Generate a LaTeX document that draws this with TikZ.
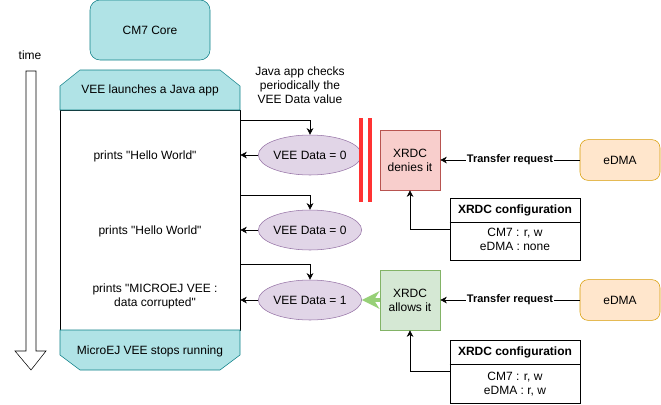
\documentclass[tikz,border=0pt]{standalone}
\usepackage{fontspec}
\setmainfont{Liberation Sans}
\usepackage{xcolor}
\definecolor{tealfill}{HTML}{B0E3E6}
\definecolor{tealline}{HTML}{0E8088}
\definecolor{purplefill}{HTML}{E1D5E7}
\definecolor{purpleline}{HTML}{9673A6}
\definecolor{redfill}{HTML}{F8CECC}
\definecolor{redline}{HTML}{B85450}
\definecolor{greenfill}{HTML}{D5E8D4}
\definecolor{greenline}{HTML}{82B366}
\definecolor{greenarrow}{HTML}{97D077}
\definecolor{orangefill}{HTML}{FFE6CC}
\definecolor{orangeline}{HTML}{D79B00}
\definecolor{barred}{HTML}{FF3333}
\usepackage{tikz}
\usetikzlibrary{arrows.meta, positioning, shapes, calc}

\begin{document}
\begin{tikzpicture}[x=0.75pt, y=-0.75pt, font=\fontsize{9}{10.5}\selectfont,
  core/.style={draw=tealline, fill=tealfill, rounded corners=7.5pt, minimum width=90pt, minimum height=45pt},
  vdata/.style={ellipse, draw=purpleline, fill=purplefill, minimum width=60pt, minimum height=30pt, inner sep=0pt},
  xrdc/.style={draw, minimum width=45pt, minimum height=45pt, align=center, inner sep=1pt},
  edma/.style={draw=orangeline, fill=orangefill, rounded corners=6pt, minimum width=60pt, minimum height=30.5pt},
  cfgbox/.style={draw, fill=white, minimum width=97.5pt},
  cfghead/.style={minimum width=97.5pt, minimum height=18pt, inner sep=0pt, font=\fontsize{9}{10.5}\selectfont\bfseries},
  arr/.style={-{Stealth[length=5pt, width=5pt]}},
  req/.style={fill=white, inner sep=1pt, font=\fontsize{8.25}{10}\selectfont\bfseries}]
  \useasboundingbox (0,0) rectangle (661,404);

  % Time arrow
  \node (time) at (30,55) {time};
  \draw[fill=white] (26,71) -- (36,71) -- (36,351) -- (46,351) -- (31,370)
    -- (15,351) -- (26,351) -- cycle;

  % Core
  \node[core] (cm7) at (150,30) {CM7 Core};

  % Main app block
  \node[draw, minimum width=135pt, minimum height=165pt, inner sep=0pt] (app) at (150,220) {};
  \draw[draw=tealline, fill=tealfill] (60,110) -- (60,86) -- (80,70) -- (220,70)
    -- (240,86) -- (240,110) -- cycle;
  \draw[draw=tealline, fill=tealfill] (60,330) -- (240,330) -- (240,355)
    -- (220,370) -- (80,370) -- (60,355) -- cycle;
  \node (launch) at (150,90) {VEE launches a Java app};
  \node (stop) at (150,351) {MicroEJ VEE stops running};
  \node (print1) at (145,156) {prints \textquotedbl Hello World\textquotedbl};
  \node (print2) at (150,231) {prints \textquotedbl Hello World\textquotedbl};
  \node[align=center] (print3) at (155,296) {prints \textquotedbl MICROEJ VEE :\\data corrupted\textquotedbl};

  % Checks
  \node[align=center] (check) at (300,85) {Java app checks\\periodically the\\VEE Data value};
  \node[vdata] (vd1) at (310,155) {VEE Data = 0};
  \node[vdata] (vd2) at (310,230) {VEE Data = 0};
  \node[vdata] (vd3) at (310,300) {VEE Data = 1};
  \coordinate (c1) at (240,120);
  \coordinate (c2) at (240,195);
  \coordinate (c3) at (240,264);
  \draw[arr] (c1) -| (vd1.north);
  \draw[arr] (c2) -| (vd2.north);
  \draw[arr] (c3) -| (vd3.north);
  \draw[arr] (vd1.west) -- (vd1.west -| app.east);
  \draw[arr] (vd2.west) -- (vd2.west -| app.east);
  \draw[arr] (vd3.west) -- (vd3.west -| app.east);

  % Barrier
  \draw[barred, line width=2.5pt] (361,118) -- (361,202);
  \draw[barred, line width=2.5pt] (370,118) -- (370,202);

  % XRDC
  \node[xrdc, draw=redline, fill=redfill] (deny) at (410,160) {XRDC\\denies it};
  \node[xrdc, draw=greenline, fill=greenfill] (allow) at (410,300) {XRDC\\allows it};
  \draw[greenarrow, line width=3pt, -{Stealth[length=13pt, width=13pt, inset=4pt]}] (allow) -- (vd3);

  % eDMA
  \node[edma] (edma1) at (620,160) {eDMA};
  \node[edma] (edma2) at (620,300) {eDMA};
  \draw[arr] (edma1) -- node[req] {Transfer request} (deny);
  \draw[arr] (edma2) -- node[req] {Transfer request} (allow);

  % XRDC configurations
  \node[cfgbox, minimum height=46.5pt] (cfg1) at (515,229) {};
  \node[cfghead, below=0pt of cfg1.north] (cfg1head) {XRDC configuration};
  \draw (cfg1head.south west) -- (cfg1head.south east);
  \node[align=center, below=1pt of cfg1head] (cfg1body) {CM7 : r, w\\eDMA : none};
  \draw[arr] (cfg1.west) -| (deny.south);

  \node[cfgbox, minimum height=47pt] (cfg2) at (515,371.5) {};
  \node[cfghead, below=0pt of cfg2.north] (cfg2head) {XRDC configuration};
  \draw (cfg2head.south west) -- (cfg2head.south east);
  \node[align=center, below=2pt of cfg2head] (cfg2body) {CM7 : r, w\\eDMA : r, w};
  \draw[arr] (cfg2.west) -| (allow.south);
\end{tikzpicture}
\end{document}
